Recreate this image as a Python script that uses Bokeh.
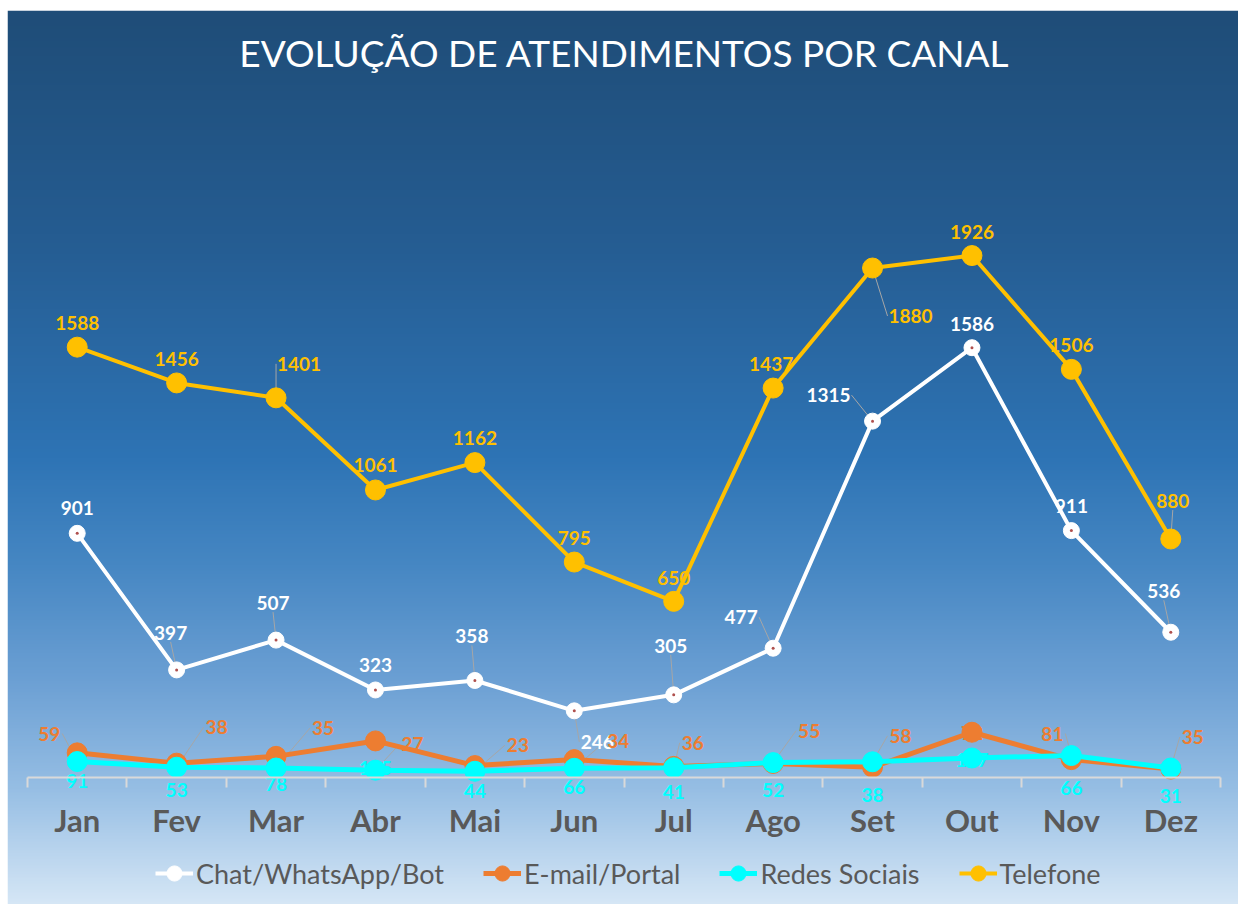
import numpy as np
from bokeh.plotting import figure
from bokeh.models import (ColumnDataSource, LinearAxis, FixedTicker, Label,
                          Legend, LegendItem, Range1d)
from bokeh.core.properties import value
from bokeh.embed import file_html
from bokeh.resources import INLINE

# ---------------- data ----------------
months = ["Jan", "Fev", "Mar", "Abr", "Mai", "Jun", "Jul", "Ago", "Set", "Out", "Nov", "Dez"]
chat = [901, 397, 507, 323, 358, 246, 305, 477, 1315, 1586, 911, 536]
email = [91, 53, 78, 135, 44, 66, 41, 52, 38, 167, 66, 31]
redes = [59, 38, 35, 27, 23, 34, 36, 55, 58, 72, 81, 35]
telefone = [1588, 1456, 1401, 1061, 1162, 795, 650, 1437, 1880, 1926, 1506, 880]
series_names = ["Chat/WhatsApp/Bot", "E-mail/Portal", "Redes Sociais", "Telefone"]
title_text = "EVOLUÇÃO DE ATENDIMENTOS POR CANAL"

# ---------------- style / layout ----------------
FONT = "Lato"
C_CHAT = "#FFFFFF"
C_EMAIL = "#ED7D31"
C_REDES = "#00FFFF"
C_TEL = "#FFC000"
C_LEADER = "#A6A6A6"
C_AXIS = "#D9D9D9"
C_CAT = "#595959"

W, H = 1231, 894
PXX = 1193 / 12.0
PXY = 0.271
x0 = 0.5 - 20 / PXX
x1 = 12.5 + 18 / PXX
y0 = -127 / PXY
y1 = 767 / PXY

# label offsets in pixels (x right, y down)
tel_dx = [0, 0, 23, 0, 0, 0, 0, -2, 38, 0, 0, 2]
tel_dy = [-24, -24, -34, -25, -25, -24, -23, -24, 48, -24, -24, -38]
tel_lead = [0, 0, 1, 0, 0, 0, 0, 0, 1, 0, 0, 1]
chat_dx = [0, -6, -3, 0, -3, 23, -3, -32, -44, 0, 0, -7]
chat_dy = [-25, -37, -37, -25, -44, 31, -49, -31, -26, -24, -25, -41]
chat_lead = [0, 1, 1, 0, 1, 1, 1, 1, 1, 0, 0, 1]
redes_dx = [-28, 40, 47, 37, 43, 44, 19, 36, 28, 0, -19, 22]
redes_dy = [-28, -40, -40, -26, -26, -27, -25, -32, -26, -25, -22, -31]
redes_lead = [1, 1, 1, 1, 1, 1, 1, 1, 1, 0, 1, 1]
email_dx = [0] * 12
email_dy = [28, 27, 28, 27, 25, 27, 26, 27, 28, 28, 28, 27]

xs = list(range(1, len(months) + 1))

p = figure(width=W, height=H, x_range=Range1d(x0, x1), y_range=Range1d(y0, y1),
           output_backend="svg", toolbar_location=None,
           x_axis_location=None, y_axis_location=None, min_border=0,
           outline_line_color=None, border_fill_color="white",
           background_fill_color="white")
p.margin = (10, 3, 0, 7)
p.xgrid.visible = False
p.ygrid.visible = False

# ---------------- gradient background ----------------
stops = [(0.00, (31, 77, 120)), (0.25, (37, 92, 145)), (0.50, (46, 116, 181)),
         (0.62, (70, 135, 195)), (0.75, (108, 160, 212)), (0.87, (150, 190, 228)),
         (1.00, (214, 231, 246))]
n = 600
t = np.linspace(0, 1, n)  # 0 = top
pos = [s[0] for s in stops]
rgb = np.stack([np.interp(t, pos, [s[1][k] for s in stops]) for k in range(3)], axis=1)
rgb = rgb[::-1]  # image row 0 = bottom
img = np.zeros((n, 2), dtype=np.uint32)
view = img.view(dtype=np.uint8).reshape((n, 2, 4))
for c in range(2):
    view[:, c, 0] = rgb[:, 0].astype(np.uint8)
    view[:, c, 1] = rgb[:, 1].astype(np.uint8)
    view[:, c, 2] = rgb[:, 2].astype(np.uint8)
    view[:, c, 3] = 255
p.image_rgba(image=[img], x=x0, y=y0, dw=x1 - x0, dh=y1 - y0)


def leaders(vals, dx, dy, flags, texts):
    sx, sy, ex, ey = [], [], [], []
    for i, (v, a, b, f, tx) in enumerate(zip(vals, dx, dy, flags, texts)):
        if not f:
            continue
        hw = 5 * len(tx) + 3
        if abs(a) > 15:
            ea = a - np.sign(a) * hw
            eb = b
        else:
            ea = a
            eb = b - np.sign(b) * 9
        sx.append(xs[i]); sy.append(v)
        ex.append(xs[i] + ea / PXX); ey.append(v - eb / PXY)
    p.segment(x0=sx, y0=sy, x1=ex, y1=ey, line_color=C_LEADER, line_width=1)


def labels(vals, texts, dx, dy, color):
    src = ColumnDataSource(dict(x=xs, y=vals, t=texts, xo=dx, yo=dy))
    p.text(x="x", y="y", text="t", x_offset="xo", y_offset="yo", source=src,
           text_color=color, text_font=value(FONT), text_font_style="bold",
           text_font_size="19px", text_align="center", text_baseline="middle")


tel_txt = [str(v) for v in telefone]
chat_txt = [str(v) for v in chat]
redes_txt = [str(v) for v in redes]
email_txt = [str(v) for v in email]

leaders(telefone, tel_dx, tel_dy, tel_lead, tel_txt)
leaders(chat, chat_dx, chat_dy, chat_lead, chat_txt)
leaders(redes, redes_dx, redes_dy, redes_lead, redes_txt)

# chat
l_chat = p.line(xs, chat, line_color=C_CHAT, line_width=4)
s_chat = p.scatter(xs, chat, marker="circle", size=16, fill_color=C_CHAT, line_color=C_CHAT)
d_chat = p.scatter(xs, chat, marker="circle", size=3, fill_color="#B0504D", line_color=None)
# email
l_email = p.line(xs, email, line_color=C_EMAIL, line_width=5)
s_email = p.scatter(xs, email, marker="circle", size=20, fill_color=C_EMAIL, line_color=C_EMAIL)
labels(email, email_txt, email_dx, email_dy, C_REDES)
# redes
l_redes = p.line(xs, redes, line_color=C_REDES, line_width=5)
s_redes = p.scatter(xs, redes, marker="circle", size=20, fill_color=C_REDES, line_color=C_REDES)
# telefone
l_tel = p.line(xs, telefone, line_color=C_TEL, line_width=4)
s_tel = p.scatter(xs, telefone, marker="circle", size=20, fill_color=C_TEL, line_color=C_TEL)

labels(chat, chat_txt, chat_dx, chat_dy, C_CHAT)
labels(telefone, tel_txt, tel_dx, tel_dy, C_TEL)
labels(redes, redes_txt, redes_dx, redes_dy, C_EMAIL)

# ---------------- axis ----------------
ax = LinearAxis(fixed_location=0, bounds=(0.5, len(months) + 0.5),
                ticker=FixedTicker(ticks=xs, minor_ticks=[i + 0.5 for i in range(0, len(months) + 1)]),
                major_label_overrides={x: m for x, m in zip(xs, months)},
                axis_line_color=C_AXIS, axis_line_width=2,
                major_tick_line_color=None,
                minor_tick_line_color=C_AXIS, minor_tick_line_width=2,
                minor_tick_in=0, minor_tick_out=10,
                major_label_text_font=FONT, major_label_text_font_style="bold",
                major_label_text_font_size="31px", major_label_text_color=C_CAT,
                major_label_standoff=13)
p.add_layout(ax, "below")

# ---------------- title ----------------
p.add_layout(Label(x=617, y=852, x_units="screen", y_units="screen", text=title_text,
                   text_color="white", text_font=FONT, text_font_size="37px",
                   text_align="center", text_baseline="middle"))

# ---------------- legend ----------------
items = [LegendItem(label=series_names[0], renderers=[l_chat, s_chat]),
         LegendItem(label=series_names[1], renderers=[l_email, s_email]),
         LegendItem(label=series_names[2], renderers=[l_redes, s_redes]),
         LegendItem(label=series_names[3], renderers=[l_tel, s_tel])]
leg = Legend(items=items, orientation="horizontal", location=(148, 11),
             label_text_font=FONT, label_text_font_size="27px", label_text_color=C_CAT,
             glyph_width=38, glyph_height=40, label_standoff=3, spacing=39,
             padding=0, margin=0, border_line_color=None, background_fill_alpha=0)
p.add_layout(leg)

open("out.html", "w").write(file_html(p, INLINE))
